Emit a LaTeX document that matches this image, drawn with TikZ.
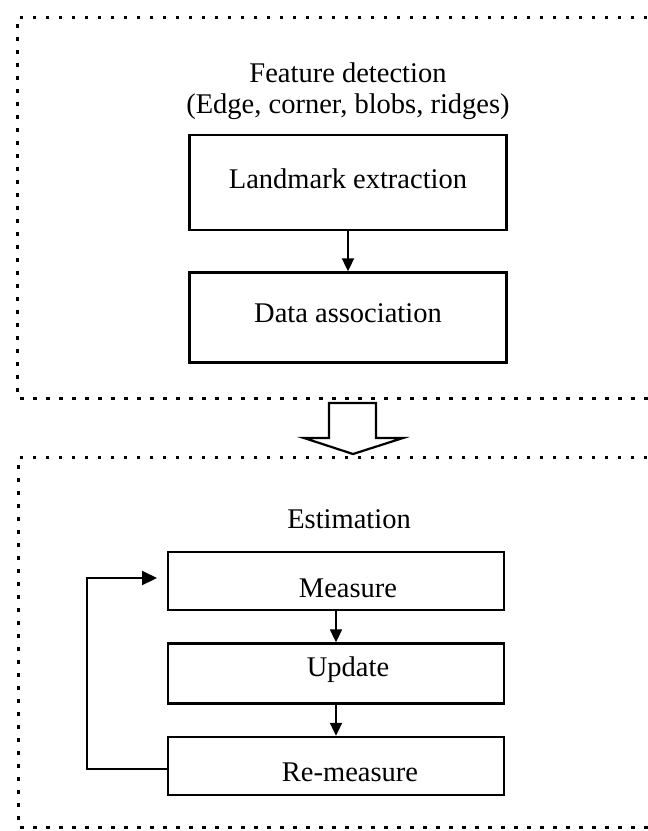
\documentclass[tikz,border=0pt]{standalone}
\usepackage{fontspec}
\setmainfont{Liberation Serif}
\usetikzlibrary{arrows.meta}
\begin{document}
\begin{tikzpicture}[x=1pt,y=-1pt,
  font=\fontsize{28.5}{34}\selectfont,
  box/.style={draw,line width=2.4pt,inner sep=0pt},
  lbl/.style={inner sep=0pt},
  grp/.style={line width=3pt,dash pattern=on 3.5pt off 9.5pt},
  conn/.style={line width=2pt,-{Triangle[length=13pt,width=12pt]}},
  loopconn/.style={line width=2.2pt,-{Triangle[length=15pt,width=14pt]}},
  hollow/.style={draw,line width=2.2pt,fill=white,line join=miter}]
\useasboundingbox (0,0) rectangle (648,831);

% group frames (right side runs past the picture edge)
\draw[grp] (660,17) -- (17,17) -- (17,398) -- (660,398);
\draw[grp] (660,457) -- (18,457) -- (18,827) -- (660,827);

% top group
\node[lbl] (fd) at (348,73) {Feature detection};
\node[lbl] (fdsub) at (348,107) {(Edge, corner, blobs, ridges)};
\node[box,minimum width=317pt,minimum height=95pt] (le) at (348,182.5) {};
\node[lbl] (let) at (348,179) {Landmark extraction};
\node[box,minimum width=317pt,minimum height=90pt] (da) at (348,317.5) {};
\node[lbl] (dat) at (348,313) {Data association};
\draw[conn] (le.south) -- (da.north);

% hollow block arrow between groups
\coordinate (ha) at (353,403);
\draw[hollow] (329,403) -- (376,403) -- (376,438) -- (403,438) -- (353,454)
  -- (304,438) -- (329,438) -- cycle;

% bottom group
\node[lbl] (est) at (349,519) {Estimation};
\node[box,minimum width=336pt,minimum height=58pt] (me) at (336,581) {};
\node[lbl] (met) at (348,588) {Measure};
\node[box,minimum width=336pt,minimum height=60pt] (up) at (336,673.5) {};
\node[lbl] (upt) at (348,670) {Update};
\node[box,minimum width=336pt,minimum height=58pt] (rm) at (336,766) {};
\node[lbl] (rmt) at (350,772) {Re-measure};
\draw[conn] (me.south) -- (up.north);
\draw[conn] (up.south) -- (rm.north);

\coordinate (lp) at (87,769);
\coordinate (mi) at (157,578);
\draw[loopconn] (rm.west |- lp) -- (lp) |- (mi);
\end{tikzpicture}
\end{document}
